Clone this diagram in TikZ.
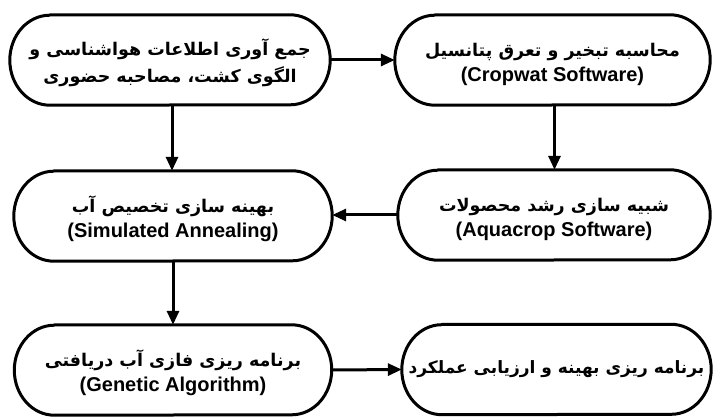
\documentclass[tikz,border=0pt]{standalone}
\usepackage{fontspec}
\setmainfont{Liberation Sans}
\newfontfamily\fa[Script=Arabic]{DejaVu Sans}
\TeXXeTstate=1
\usetikzlibrary{arrows.meta}
\newcommand\prx{40pt}
\newcommand\pry{45pt}
\newcommand\pillout[1]{%
  \draw[boxline] ([xshift=\prx]#1.north west) -- ([xshift=-\prx]#1.north east)
    arc[start angle=90,end angle=-90,x radius=\prx,y radius=\pry]
    -- ([xshift=\prx]#1.south west)
    arc[start angle=270,end angle=90,x radius=\prx,y radius=\pry] -- cycle;}
\newcommand\faline[1]{{\fa\bfseries\fontsize{17.5}{25}\selectfont\rule{0pt}{22pt}\beginR #1\endR}}
\newcommand\enline[1]{{\bfseries\fontsize{20}{25}\selectfont #1}}
\tikzset{
  pill/.style={draw=none, minimum height=90pt, inner sep=0pt, align=center,
    font=\fontsize{20}{25}\selectfont},
  boxline/.style={line width=3pt, line join=round},
  arr/.style={line width=3pt, -{Triangle[length=14pt,width=12pt]}}
}
\begin{document}
\begin{tikzpicture}[x=1pt,y=1pt]
\useasboundingbox[fill=white] (0,0) rectangle (713,-417);
\node[pill, minimum width=320pt] (b1) at (170,-60)
  {\faline{جمع آوری اطلاعات هواشناسی و}\\\faline{الگوی کشت، مصاحبه حضوری}};
\node[pill, minimum width=315pt] (b2) at (552.5,-60)
  {\faline{محاسبه تبخیر و تعرق پتانسیل}\\\enline{(Cropwat Software)}};
\node[pill, minimum width=318pt] (b3) at (173,-216)
  {\faline{بهینه سازی تخصیص آب}\\\enline{(Simulated Annealing)}};
\node[pill, minimum width=312pt] (b4) at (554,-215)
  {\faline{شبیه سازی رشد محصولات}\\\enline{(Aquacrop Software)}};
\node[pill, minimum width=317pt] (b5) at (173,-370)
  {\faline{برنامه ریزی فازی آب دریافتی}\\\enline{(Genetic Algorithm)}};
\node[pill, minimum width=309pt] (b6) at (556.5,-369.5)
  {{\fa\bfseries\fontsize{17}{25}\selectfont\beginR برنامه ریزی بهینه و ارزیابی عملکرد\endR}};
\pillout{b1}\pillout{b2}\pillout{b3}\pillout{b4}\pillout{b5}\pillout{b6}
\draw[arr] (b1.east) -- (b2.west);
\draw[arr] ([xshift=2pt]b1.south) -- ([xshift=2pt]b1.south |- b3.north);
\draw[arr] ([xshift=2pt]b2.south) -- ([xshift=2pt]b2.south |- b4.north);
\draw[arr] (b4.west) -- (b4.west -| b3.east);
\draw[arr] (b3.south) -- (b3.south |- b5.north);
\draw[arr] (b5.east) -- (b6.west);
\end{tikzpicture}
\end{document}
